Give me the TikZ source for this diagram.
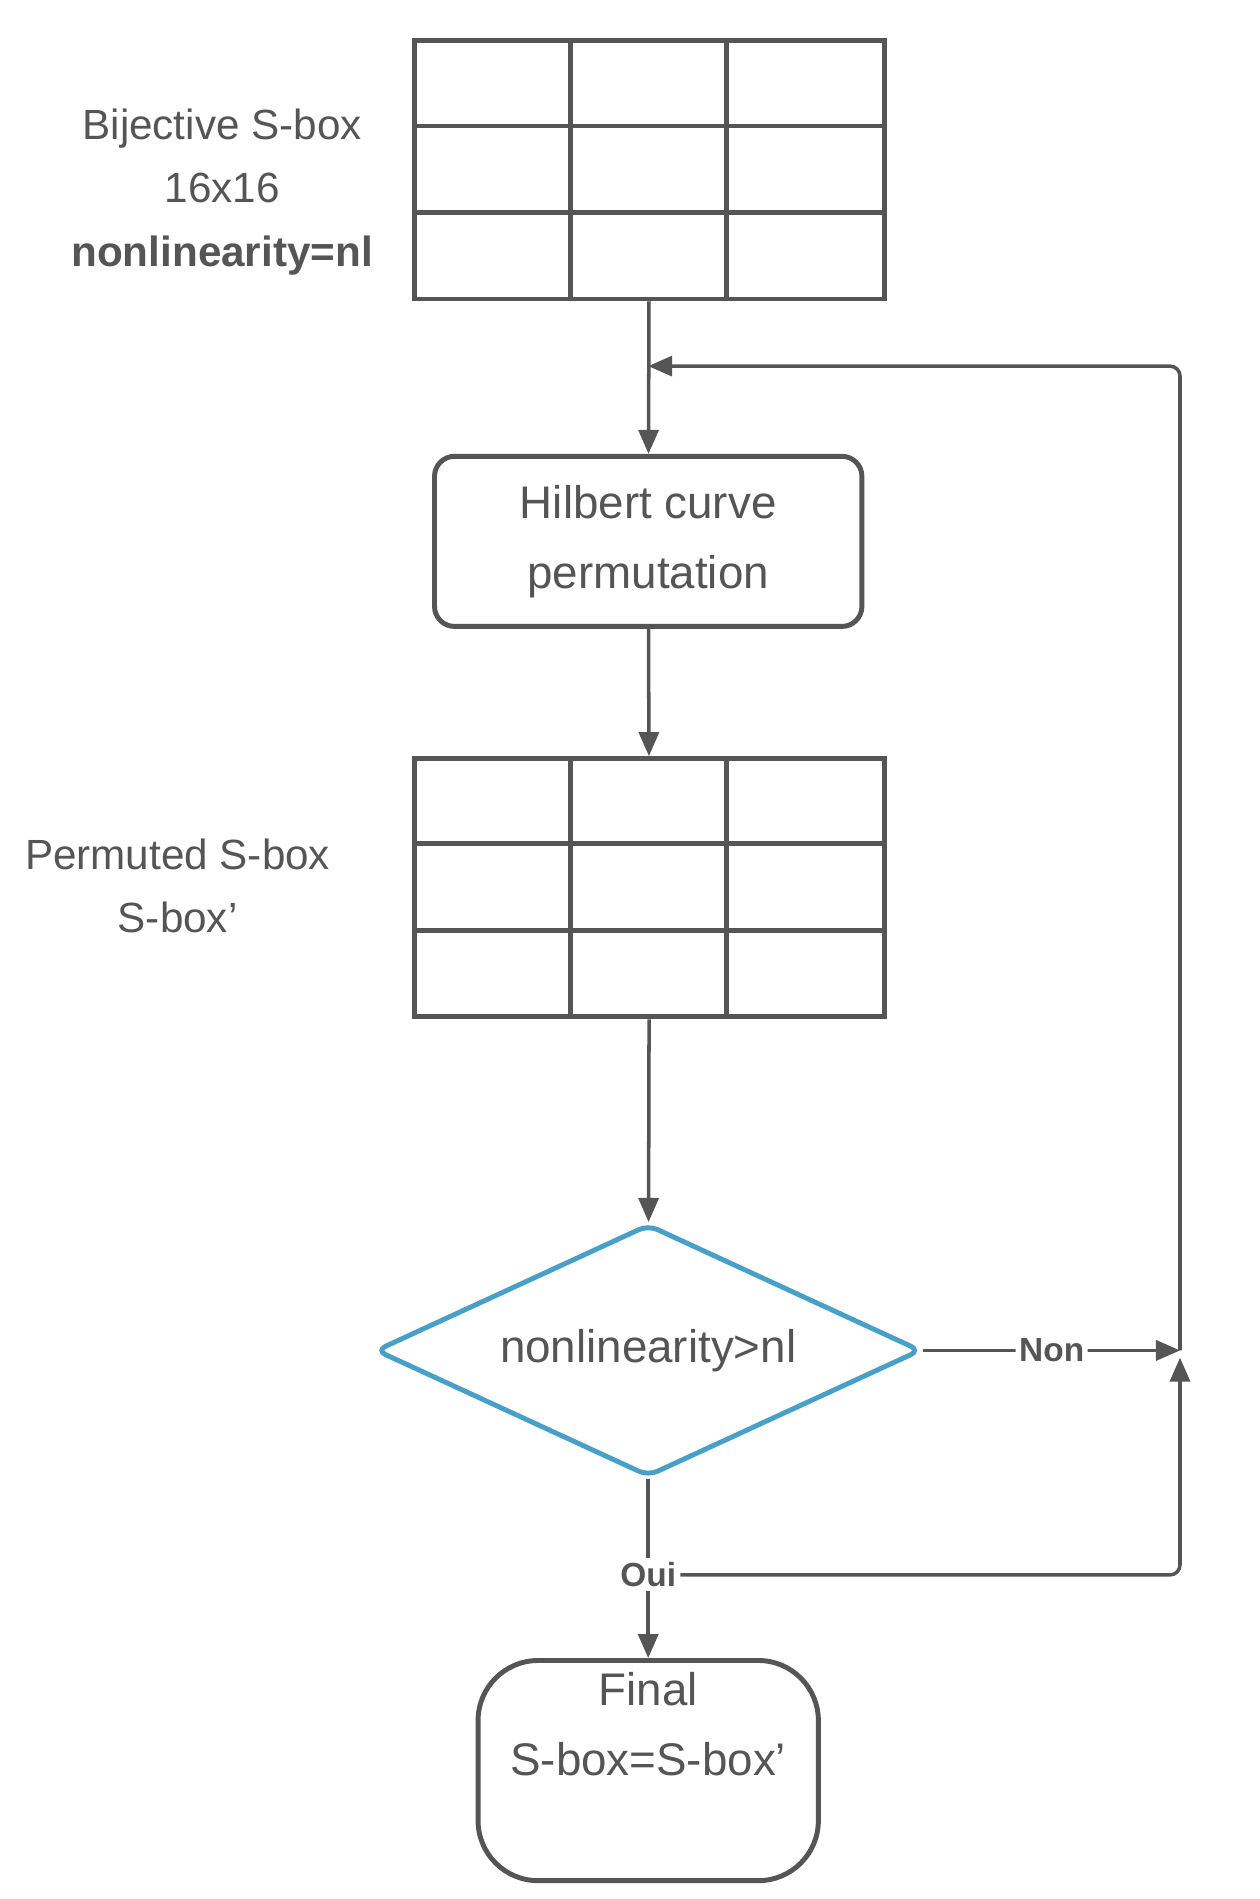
\documentclass[tikz,border=0pt]{standalone}
\usepackage{fontspec}
\setmainfont{Liberation Sans}
\usetikzlibrary{positioning, shapes.geometric, arrows.meta, calc}
\definecolor{ink}{RGB}{85,85,85}
\definecolor{diablue}{RGB}{72,160,200}
\begin{document}
\begin{tikzpicture}[
    x=0.012cm, y=-0.012cm,
    arrow/.style={
        -{Triangle[length=0.24cm, width=0.2cm]},
        draw=ink,
        line width=1pt,
        rounded corners=0.1cm
    },
    grid/.style={
        rectangle,
        draw=ink,
        line width=1.4pt,
        minimum width=4.7cm,
        minimum height=2.58cm,
        inner sep=0pt
    },
    process/.style={
        rectangle,
        draw=ink,
        line width=1.4pt,
        rounded corners=2mm,
        minimum width=4.27cm,
        minimum height=1.7cm,
        align=center,
        text=ink,
        font=\fontsize{13}{20}\selectfont
    },
    decision/.style={
        diamond,
        draw=diablue,
        line width=1.4pt,
        rounded corners=1mm,
        aspect=2.16,
        minimum width=5.45cm,
        minimum height=2.52cm,
        inner sep=0pt,
        text=ink,
        font=\fontsize{13}{16}\selectfont
    },
    terminal/.style={
        rectangle,
        draw=ink,
        line width=1.4pt,
        rounded corners=6mm,
        minimum width=3.4cm,
        minimum height=1.74cm,
        align=center,
        text=ink,
        font=\fontsize{13}{20}\selectfont
    },
    note/.style={
        align=center,
        text=ink,
        font=\fontsize{12}{18}\selectfont
    },
    answer/.style={
        fill=white,
        inner sep=1pt,
        text=ink,
        font=\bfseries\fontsize{9.5}{11}\selectfont
    }
]
    \useasboundingbox (0,0) rectangle (1049,1582);

    % Bijective S-box
    \node[grid] (sbox) at (541,141.5) {};
    \foreach \c in {475,605} \draw[ink, line width=1.4pt] (\c,35) -- (\c,248);
    \foreach \r in {105,177} \draw[ink, line width=1.4pt] (345,\r) -- (737,\r);
    \node[note] (sboxlbl) at (185,160) {Bijective S-box\\16x16\\\textbf{nonlinearity=nl}};

    % Hilbert permutation
    \node[process] (hilbert) at (540,451) {Hilbert curve\\permutation};
    \coordinate (join) at (540,305);

    % Permuted S-box
    \node[grid] (perm) at (541,739.5) {};
    \foreach \c in {475,605} \draw[ink, line width=1.4pt] (\c,632) -- (\c,847);
    \foreach \r in {703,775} \draw[ink, line width=1.4pt] (345,\r) -- (737,\r);
    \node[note] (permlbl) at (148,738) {Permuted S-box\\S-box'};

    % Test
    \node[decision] (test) at (540,1125) {nonlinearity>nl};
    \coordinate (merge) at (983,1125);
    \node[answer] (oui) at (540,1312) {Oui};

    % Final
    \node[terminal] (final) at (540,1475) {Final\\S-box=S-box'\\[0.5em]};

    \draw[arrow] (sbox) -- (hilbert);
    \draw[arrow] (hilbert) -- (perm);
    \draw[arrow] (perm) -- (test);
    \draw[arrow] (test.east) -- node[answer] {Non} (merge);
    \draw[arrow] (merge) |- (join);
    \draw[draw=ink, line width=1pt] (test.south) -- (oui);
    \draw[arrow] (oui) -- (final);
    \draw[arrow] (oui.east) -| ($(merge)+(0,6)$);
\end{tikzpicture}
\end{document}
